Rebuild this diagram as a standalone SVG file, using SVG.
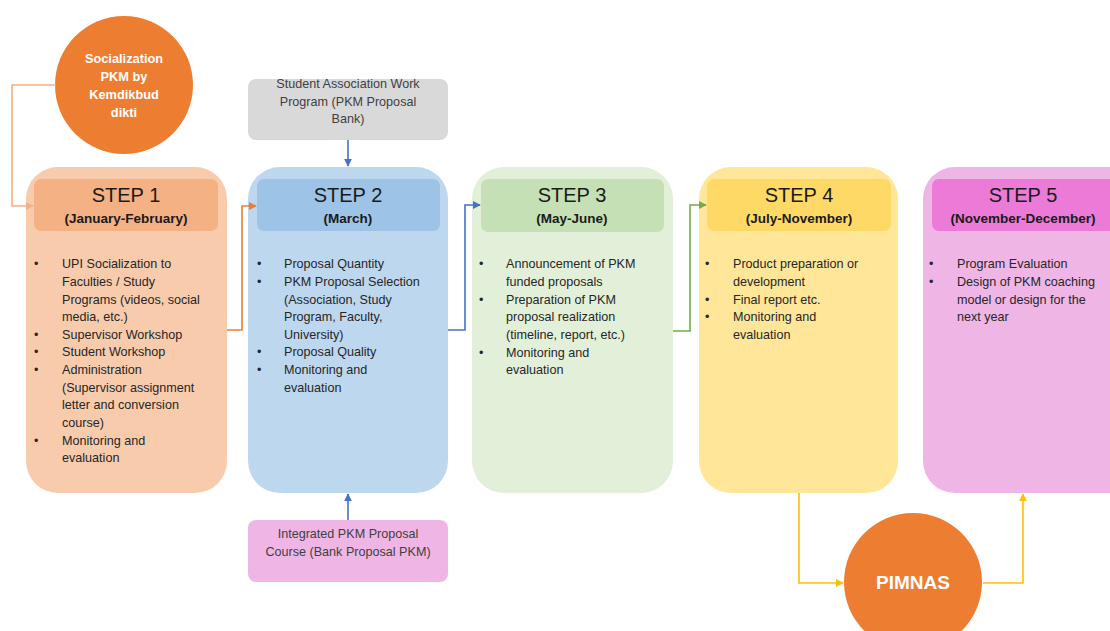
<svg xmlns="http://www.w3.org/2000/svg" width="1110" height="631" viewBox="0 0 1110 631">
<style>
.t{font-family:"Liberation Sans",Arial,sans-serif;font-size:12.6px;fill:#262626}
.g{font-family:"Liberation Sans",Arial,sans-serif;font-size:12.6px;fill:#404040;text-anchor:middle}
.h{font-family:"Liberation Sans",Arial,sans-serif;font-size:20px;fill:#1a1a1a;text-anchor:middle}
.hb{font-family:"Liberation Sans",Arial,sans-serif;font-size:13.5px;font-weight:bold;fill:#1a1a1a;text-anchor:middle}
.w{font-family:"Liberation Sans",Arial,sans-serif;font-size:12.8px;font-weight:bold;fill:#ffffff;text-anchor:middle}
.c{fill:none;stroke-width:1.6}
</style>
<defs>
<marker id="ao" viewBox="0 0 10 10" refX="9" refY="5" markerWidth="5" markerHeight="5" orient="auto"><path d="M0,0L10,5L0,10z" fill="#ED7D31"/></marker>
<marker id="al" viewBox="0 0 10 10" refX="9" refY="5" markerWidth="5" markerHeight="5" orient="auto"><path d="M0,0L10,5L0,10z" fill="#F4B183"/></marker>
<marker id="ab" viewBox="0 0 10 10" refX="9" refY="5" markerWidth="5" markerHeight="5" orient="auto"><path d="M0,0L10,5L0,10z" fill="#4472C4"/></marker>
<marker id="ag" viewBox="0 0 10 10" refX="9" refY="5" markerWidth="5" markerHeight="5" orient="auto"><path d="M0,0L10,5L0,10z" fill="#70AD47"/></marker>
<marker id="ay" viewBox="0 0 10 10" refX="9" refY="5" markerWidth="5" markerHeight="5" orient="auto"><path d="M0,0L10,5L0,10z" fill="#FFC000"/></marker>
</defs>
<rect width="1110" height="631" fill="#ffffff"/>

<g id="socialization">
<circle cx="124" cy="85" r="69" fill="#ED7D31"/>
<text class="w" x="124" y="63">Socialization</text>
<text class="w" x="124" y="81">PKM by</text>
<text class="w" x="124" y="99">Kemdikbud</text>
<text class="w" x="124" y="117">dikti</text>
</g>

<g id="work-program">
<rect x="248" y="79" width="200" height="61" rx="8" fill="#D9D9D9"/>
<text class="g" x="348" y="88">Student Association Work</text>
<text class="g" x="348" y="106">Program (PKM Proposal</text>
<text class="g" x="348" y="123">Bank)</text>
</g>

<g id="proposal-course">
<rect x="248" y="520" width="200" height="62" rx="8" fill="#EFB6E5"/>
<text class="g" x="348" y="538">Integrated PKM Proposal</text>
<text class="g" x="348" y="556">Course (Bank Proposal PKM)</text>
</g>

<g id="step1">
<rect x="26" y="167" width="201" height="326" rx="32" fill="#F8CBAD"/>
<rect x="34" y="179" width="184" height="52" rx="7" fill="#F4B183"/>
<text class="h" x="126" y="202">STEP 1</text>
<text class="hb" x="126" y="223">(January-February)</text>
<g class="t">
<text x="34" y="268">•</text><text x="62" y="268">UPI Socialization to</text>
<text x="62" y="286">Faculties / Study</text>
<text x="62" y="304">Programs (videos, social</text>
<text x="62" y="321">media, etc.)</text>
<text x="34" y="339">•</text><text x="62" y="339">Supervisor Workshop</text>
<text x="34" y="356">•</text><text x="62" y="356">Student Workshop</text>
<text x="34" y="374">•</text><text x="62" y="374">Administration</text>
<text x="62" y="392">(Supervisor assignment</text>
<text x="62" y="409">letter and conversion</text>
<text x="62" y="427">course)</text>
<text x="34" y="445">•</text><text x="62" y="445">Monitoring and</text>
<text x="62" y="462">evaluation</text>
</g>
</g>

<g id="step2">
<rect x="248" y="167" width="200" height="326" rx="32" fill="#BDD7EE"/>
<rect x="257" y="179" width="183" height="52" rx="7" fill="#9DC3E6"/>
<text class="h" x="348" y="202">STEP 2</text>
<text class="hb" x="348" y="223">(March)</text>
<g class="t">
<text x="257" y="268">•</text><text x="284" y="268">Proposal Quantity</text>
<text x="257" y="286">•</text><text x="284" y="286">PKM Proposal Selection</text>
<text x="284" y="304">(Association, Study</text>
<text x="284" y="321">Program, Faculty,</text>
<text x="284" y="339">University)</text>
<text x="257" y="356">•</text><text x="284" y="356">Proposal Quality</text>
<text x="257" y="374">•</text><text x="284" y="374">Monitoring and</text>
<text x="284" y="392">evaluation</text>
</g>
</g>

<g id="step3">
<rect x="472" y="167" width="201" height="326" rx="32" fill="#E2F0D9"/>
<rect x="481" y="179" width="183" height="53" rx="7" fill="#C5E0B4"/>
<text class="h" x="572" y="202">STEP 3</text>
<text class="hb" x="572" y="223">(May-June)</text>
<g class="t">
<text x="479" y="268">•</text><text x="506" y="268">Announcement of PKM</text>
<text x="506" y="286">funded proposals</text>
<text x="479" y="304">•</text><text x="506" y="304">Preparation of PKM</text>
<text x="506" y="321">proposal realization</text>
<text x="506" y="339">(timeline, report, etc.)</text>
<text x="479" y="357">•</text><text x="506" y="357">Monitoring and</text>
<text x="506" y="374">evaluation</text>
</g>
</g>

<g id="step4">
<rect x="699" y="167" width="199" height="326" rx="32" fill="#FFE699"/>
<rect x="707" y="179" width="184" height="52" rx="7" fill="#FFD966"/>
<text class="h" x="799" y="202">STEP 4</text>
<text class="hb" x="799" y="223">(July-November)</text>
<g class="t">
<text x="705" y="268">•</text><text x="733" y="268">Product preparation or</text>
<text x="733" y="286">development</text>
<text x="705" y="304">•</text><text x="733" y="304">Final report etc.</text>
<text x="705" y="321">•</text><text x="733" y="321">Monitoring and</text>
<text x="733" y="339">evaluation</text>
</g>
</g>

<g id="step5">
<rect x="923" y="167" width="220" height="326" rx="32" fill="#EFB6E5"/>
<rect x="932" y="179" width="200" height="52" rx="7" fill="#EB7BD6"/>
<text class="h" x="1023" y="202">STEP 5</text>
<text class="hb" x="1023" y="223">(November-December)</text>
<g class="t">
<text x="929" y="268">•</text><text x="957" y="268">Program Evaluation</text>
<text x="929" y="286">•</text><text x="957" y="286">Design of PKM coaching</text>
<text x="957" y="304">model or design for the</text>
<text x="957" y="321">next year</text>
</g>
</g>

<g id="pimnas">
<circle cx="913" cy="582" r="69" fill="#ED7D31"/>
<text class="w" x="913" y="589" style="font-size:19px">PIMNAS</text>
</g>

<g id="connectors">
<path class="c" stroke="#F4B183" d="M56,85H12V206H33" marker-end="url(#al)"/>
<path class="c" stroke="#ED7D31" d="M227,330H242V206H256" marker-end="url(#ao)"/>
<path class="c" stroke="#4472C4" d="M448,330H465V205H480" marker-end="url(#ab)"/>
<path class="c" stroke="#70AD47" d="M673,331H690V205H706" marker-end="url(#ag)"/>
<path class="c" stroke="#4472C4" d="M348,140V166" marker-end="url(#ab)"/>
<path class="c" stroke="#4472C4" d="M348,520V494" marker-end="url(#ab)"/>
<path class="c" stroke="#FFC000" d="M799,493V583H843" marker-end="url(#ay)"/>
<path class="c" stroke="#FFC000" d="M983,583H1023V494" marker-end="url(#ay)"/>
</g>
</svg>
